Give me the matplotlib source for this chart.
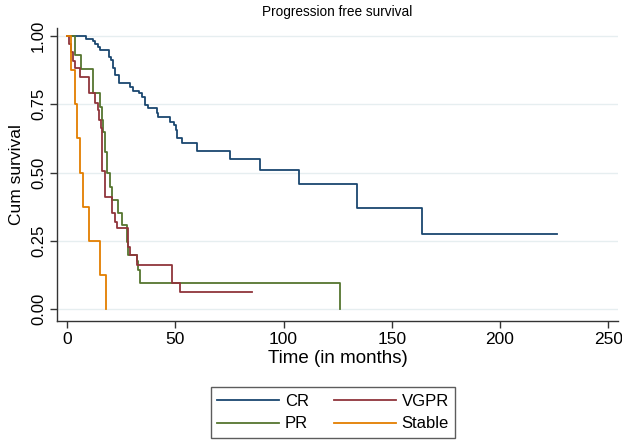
import matplotlib
matplotlib.use("Agg")
import matplotlib.pyplot as plt
from matplotlib.lines import Line2D

plt.rcParams['font.family'] = ['Liberation Sans', 'DejaVu Sans']

# Kaplan-Meier step data (time in months, cumulative survival after each step)
cr_time = [0, 8.7, 11.8, 12.8, 14.4, 15.2, 19.5, 20.2, 21.0, 22.2, 24.1, 29.0, 30.3, 33.3,
           34.4, 36.0, 37.5, 41.4, 42.1, 47.5, 49.4, 50.3, 50.9, 53.2, 59.8, 75.2, 89.2,
           107.1, 133.9, 164.0, 226.3]
cr_surv = [1.0, 0.99, 0.98, 0.97, 0.96, 0.95, 0.924, 0.912, 0.884, 0.857, 0.827, 0.814, 0.799,
           0.79, 0.778, 0.748, 0.738, 0.717, 0.705, 0.686, 0.674, 0.656, 0.626, 0.607, 0.579,
           0.55, 0.51, 0.458, 0.369, 0.277, 0.277]

vgpr_time = [0, 1.0, 1.8, 2.7, 3.6, 5.9, 10.2, 12.8, 14.4, 14.9, 15.4, 15.9, 17.5, 20.6,
             22.1, 22.9, 28.2, 29.0, 32.4, 48.3, 52.1, 85.2]
vgpr_surv = [1.0, 0.97, 0.94, 0.91, 0.882, 0.851, 0.79, 0.754, 0.729, 0.693, 0.662, 0.505,
             0.412, 0.351, 0.321, 0.296, 0.229, 0.199, 0.162, 0.095, 0.064, 0.064]

pr_time = [0, 3.7, 6.5, 12.1, 15.2, 15.9, 16.7, 17.5, 18.2, 19.8, 20.6, 23.6, 25.2, 27.5,
           28.2, 32.1, 32.9, 33.6, 126.1]
pr_surv = [1.0, 0.93, 0.88, 0.79, 0.741, 0.693, 0.65, 0.577, 0.498, 0.449, 0.40, 0.351, 0.308,
           0.247, 0.199, 0.175, 0.144, 0.095, 0.0]

st_time = [0, 1.7, 3.6, 4.7, 6.0, 7.1, 10.2, 15.2, 18.1]
st_surv = [1.0, 0.875, 0.75, 0.625, 0.5, 0.375, 0.25, 0.125, 0.0]

series = [("CR", cr_time, cr_surv, "#1a476f"),
          ("VGPR", vgpr_time, vgpr_surv, "#90353b"),
          ("PR", pr_time, pr_surv, "#55752f"),
          ("Stable", st_time, st_surv, "#e37e00")]

xticks = [0, 50, 100, 150, 200, 250]
yticks = [0.0, 0.25, 0.5, 0.75, 1.0]
ytick_labels = ["0.00", "0.25", "0.50", "0.75", "1.00"]

W, H = 622, 442
fig = plt.figure(figsize=(W / 100, H / 100), dpi=100)
ax = fig.add_axes([57 / W, 1 - 321 / H, (618 - 57) / W, (321 - 28) / H])

for yv in yticks:
    ax.axhline(yv, color="#e6eef0", lw=1.0, zorder=0)

plot_order = [0, 2, 1, 3]
for i in plot_order:
    name, t, s, c = series[i]
    ax.step(t, s, where="post", color=c, lw=1.3, zorder=3)

ax.set_xlim(-4.7, 254.5)
ax.set_ylim(-0.043, 1.029)
ax.set_xticks(xticks)
ax.set_xticklabels([str(v) for v in xticks], fontsize=12.5)
ax.set_yticks(yticks)
ax.set_yticklabels(ytick_labels, fontsize=12, rotation=90, va="center")
ax.tick_params(axis="both", direction="out", length=5, width=1, color="#333333", pad=3)
for side in ["top", "right"]:
    ax.spines[side].set_visible(False)
for side in ["left", "bottom"]:
    ax.spines[side].set_color("#333333")
    ax.spines[side].set_linewidth(1.0)

ax.set_xlabel("Time (in months)", fontsize=13.5, labelpad=2)
ax.set_ylabel("Cum survival", fontsize=12.5, labelpad=5)
fig.text(337 / W, 1 - 12 / H, "Progression free survival", ha="center", va="center", fontsize=9.8)

# matplotlib fills legend columns first; reorder so rows read CR, VGPR / PR, Stable
leg_order = [0, 2, 1, 3]
handles = [Line2D([0], [0], color=series[i][3], lw=1.3) for i in leg_order]
labels = [series[i][0] for i in leg_order]
leg = fig.legend(handles, labels, ncol=2, loc="lower center",
                 bbox_to_anchor=(333 / W, 4 / H), fontsize=12,
                 handlelength=3.7, handletextpad=0.36, columnspacing=1.5,
                 labelspacing=0.45, frameon=True, fancybox=False,
                 borderpad=0.4, borderaxespad=0)
leg.get_frame().set_edgecolor("#333333")
leg.get_frame().set_linewidth(1.0)

fig.savefig("out.png", dpi=100)
